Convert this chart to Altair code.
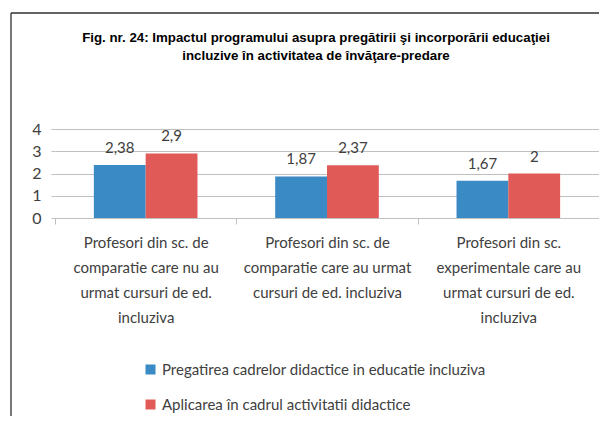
import altair as alt
import pandas as pd

title_lines = [
    "Fig. nr. 24: Impactul programului asupra pregătirii şi incorporării educaţiei",
    "incluzive în activitatea de învăţare-predare",
]
category_lines = [
    ["Profesori din sc. de", "comparatie care nu au", "urmat cursuri de ed.", "incluziva"],
    ["Profesori din sc. de", "comparatie care au urmat", "cursuri de ed. incluziva"],
    ["Profesori din sc.", "experimentale care au", "urmat cursuri de ed.", "incluziva"],
]
series_names = [
    "Pregatirea cadrelor didactice in educatie incluziva",
    "Aplicarea în cadrul activitatii didactice",
]
series1 = [2.38, 1.87, 1.67]
series2 = [2.9, 2.37, 2.0]
colors = ["#3A8AC6", "#E05A58"]
y_ticks = [0, 1, 2, 3, 4]

categories = ["\n".join(c) for c in category_lines]
rows = []
for i, c in enumerate(categories):
    rows.append({"cat": c, "series": series_names[0], "value": series1[i]})
    rows.append({"cat": c, "series": series_names[1], "value": series2[i]})
df = pd.DataFrame(rows)

FONT = "Lato"
FS = 15
TXT = "#404040"
GRID = "#BFBFBF"

base = alt.Chart(df).encode(
    x=alt.X("cat:N", sort=categories,
            scale=alt.Scale(paddingInner=0, paddingOuter=0),
            axis=alt.Axis(title=None, labelAngle=0, labelExpr="split(datum.label, '\\n')",
                          labelFont=FONT, labelFontSize=FS, labelColor=TXT, labelLineHeight=25,
                          labelPadding=11, tickBand="extent", ticks=True, tickSize=6,
                          tickColor=GRID, domainColor=GRID, grid=False, labelLimit=300)),
    xOffset=alt.XOffset("series:N", sort=series_names,
                        scale=alt.Scale(paddingInner=0, paddingOuter=0.75)),
    y=alt.Y("value:Q", scale=alt.Scale(domain=[0, 4]),
            axis=alt.Axis(title=None, values=y_ticks, tickCount=5, grid=True, gridColor=GRID,
                          domain=False, ticks=True, tickSize=4, tickColor=GRID,
                          labelFont=FONT, labelFontSize=16, labelColor=TXT, labelPadding=10,
                          labelOverlap=False)),
)

bars = base.mark_bar().encode(
    color=alt.Color("series:N", sort=series_names,
                    scale=alt.Scale(domain=series_names, range=colors),
                    legend=alt.Legend(title=None, orient="none", legendX=88, legendY=233,
                                      direction="vertical", symbolType="square",
                                      symbolSize=100, symbolStrokeWidth=0,
                                      labelFont=FONT, labelFontSize=FS, labelColor=TXT,
                                      rowPadding=19, labelLimit=500)),
)

labels = base.mark_text(font=FONT, fontSize=FS, color=TXT, baseline="alphabetic", dy=-12).encode(
    text=alt.Text("lbl:N"),
).transform_calculate(lbl="replace(toString(datum.value), '.', ',')")

frame_df = pd.DataFrame({"a": [0]})
left_line = alt.Chart(frame_df).mark_rule(color="#303030", strokeWidth=1.3).encode(
    x=alt.value(-44), y=alt.value(-116), y2=alt.value(300))
top_line = alt.Chart(frame_df).mark_rule(color="#303030", strokeWidth=1.3).encode(
    x=alt.value(-44), x2=alt.value(560), y=alt.value(-116))

chart = alt.layer(bars, labels, left_line, top_line).properties(
    width=544, height=89,
    padding={"left": 47, "top": 121, "right": 0, "bottom": 198},
    autosize=alt.AutoSizeParams(type="none"),
    title=alt.TitleParams(text=title_lines, font="Liberation Sans", fontSize=13.3,
                          fontWeight="bold", color="#000000", anchor="middle",
                          frame="group", dx=-11, offset=-50, lineHeight=18),
).configure_view(stroke=None)

chart.save("out.html", embed_options={"renderer": "svg", "actions": False})
